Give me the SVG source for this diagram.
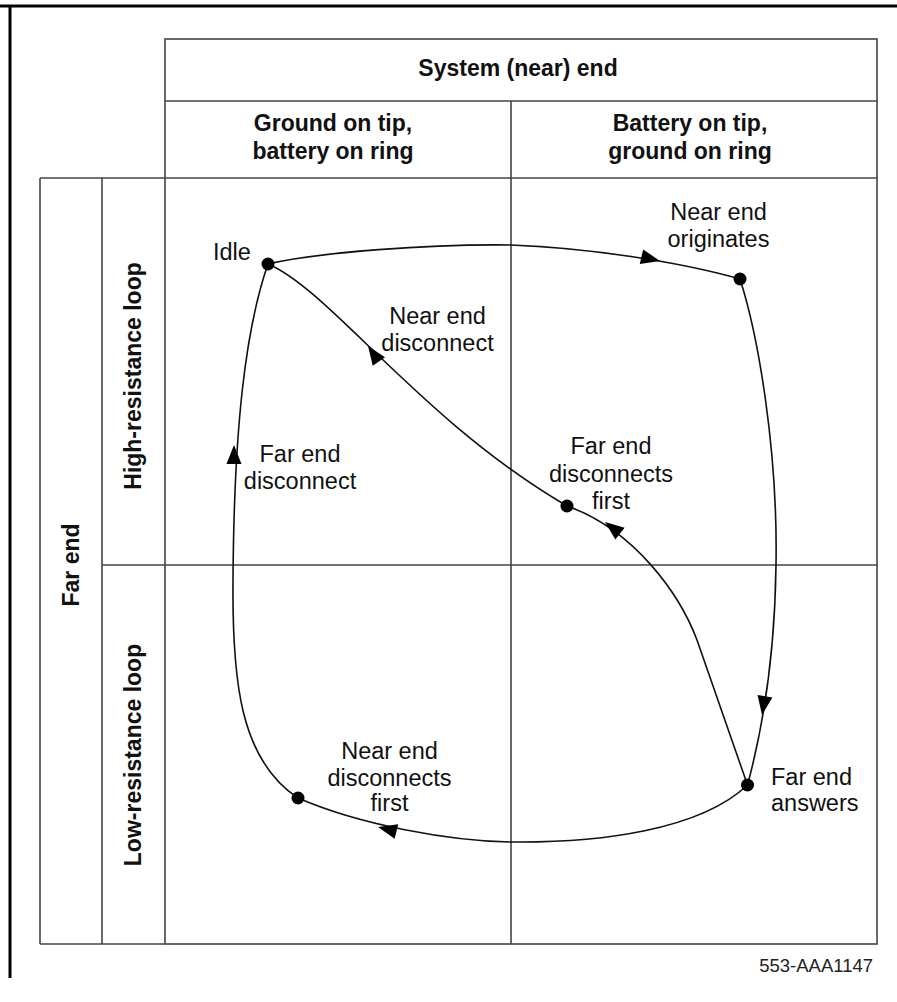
<svg xmlns="http://www.w3.org/2000/svg" xmlns:xlink="http://www.w3.org/1999/xlink" width="897" height="1002" viewBox="0 0 897 1002">
<style>
.frame{stroke:#000;stroke-width:3;fill:none}
.grid{stroke:#444;stroke-width:1.6;fill:none}
.hdr{font-family:"Liberation Sans",Arial,sans-serif;font-size:23px;font-weight:bold;fill:#111;text-anchor:middle}
.lbl{font-family:"Liberation Sans",Arial,sans-serif;font-size:23.5px;fill:#111}
.mid{text-anchor:middle}
.conn{stroke:#111;stroke-width:1.6;fill:none}
.dot{fill:#000}
.ah{fill:#000}
.fig{font-family:"Liberation Sans",Arial,sans-serif;font-size:18.5px;fill:#222;text-anchor:end}
</style>
<defs>
<path id="ah" d="M0,0 L-19,-7.5 L-19,7.5 Z"/>
</defs>
<rect width="897" height="1002" fill="#fff"/>
<g id="frame">
<line class="frame" x1="0" y1="6" x2="897" y2="6"/>
<line class="frame" x1="10" y1="5" x2="10" y2="978"/>
</g>
<g id="table">
<rect class="grid" x="165" y="39" width="712" height="905"/>
<line class="grid" x1="40" y1="178" x2="877" y2="178"/>
<line class="grid" x1="40" y1="178" x2="40" y2="944"/>
<line class="grid" x1="40" y1="944" x2="165" y2="944"/>
<line class="grid" x1="102" y1="178" x2="102" y2="944"/>
<line class="grid" x1="165" y1="101" x2="877" y2="101"/>
<line class="grid" x1="511" y1="101" x2="511" y2="944"/>
<line class="grid" x1="102" y1="565" x2="877" y2="565"/>
</g>
<g id="headers">
<text class="hdr" x="518" y="76">System (near) end</text>
<text class="hdr" x="333" y="131">Ground on tip,</text>
<text class="hdr" x="333" y="158.5">battery on ring</text>
<text class="hdr" x="690" y="131">Battery on tip,</text>
<text class="hdr" x="690" y="158.5">ground on ring</text>
<text class="hdr" transform="translate(79,565) rotate(-90)">Far end</text>
<text class="hdr" transform="translate(141,376) rotate(-90)">High-resistance loop</text>
<text class="hdr" transform="translate(141,755) rotate(-90)">Low-resistance loop</text>
</g>
<g id="connectors">
<path class="conn" d="M268,264 C320,252 430,244 511,245 C590,248 680,262 740,279"/>
<path class="conn" d="M740,279 C758,335 778,450 776,565 C775,650 765,720 747.5,785"/>
<path class="conn" d="M747.5,785 L697,640 C680,595 635,530 567,506"/>
<path class="conn" d="M567,506 C420,420 330,290 268,264"/>
<path class="conn" d="M747.5,785 C700,830 600,843 510,842 C450,841 360,825 298,798"/>
<path class="conn" d="M298,798 C240,760 232,680 233,580 C234,430 245,330 268,264"/>
<use href="#ah" class="ah" transform="translate(660,261) rotate(13)"/>
<use href="#ah" class="ah" transform="translate(762,715) rotate(99)"/>
<use href="#ah" class="ah" transform="translate(605,522) rotate(-142)"/>
<use href="#ah" class="ah" transform="translate(368,346) rotate(-125)"/>
<use href="#ah" class="ah" transform="translate(378,827) rotate(-166)"/>
<use href="#ah" class="ah" transform="translate(234,445) rotate(-90)"/>
</g>
<g id="idle">
<circle class="dot" cx="268" cy="264" r="6.5"/>
<text class="lbl" x="213" y="260">Idle</text>
</g>
<g id="near-end-originates">
<circle class="dot" cx="740" cy="279" r="6.5"/>
<text class="lbl mid" x="718.5" y="220">Near end</text>
<text class="lbl mid" x="718.5" y="247">originates</text>
</g>
<g id="far-end-answers">
<circle class="dot" cx="747.5" cy="785" r="6.5"/>
<text class="lbl" x="771" y="785">Far end</text>
<text class="lbl" x="771" y="811">answers</text>
</g>
<g id="far-end-disconnects-first">
<circle class="dot" cx="567" cy="506" r="6.5"/>
<text class="lbl mid" x="611" y="454">Far end</text>
<text class="lbl mid" x="611" y="481.5">disconnects</text>
<text class="lbl mid" x="611" y="508.5">first</text>
</g>
<g id="near-end-disconnects-first">
<circle class="dot" cx="298" cy="798" r="6.5"/>
<text class="lbl mid" x="389.5" y="759">Near end</text>
<text class="lbl mid" x="389.5" y="786">disconnects</text>
<text class="lbl mid" x="389.5" y="811">first</text>
</g>
<g id="label-near-end-disconnect">
<text class="lbl mid" x="437.5" y="324">Near end</text>
<text class="lbl mid" x="437.5" y="350.5">disconnect</text>
</g>
<g id="label-far-end-disconnect">
<text class="lbl mid" x="300" y="462">Far end</text>
<text class="lbl mid" x="300" y="488.5">disconnect</text>
</g>
<text class="fig" x="873" y="972">553-AAA1147</text>
</svg>
